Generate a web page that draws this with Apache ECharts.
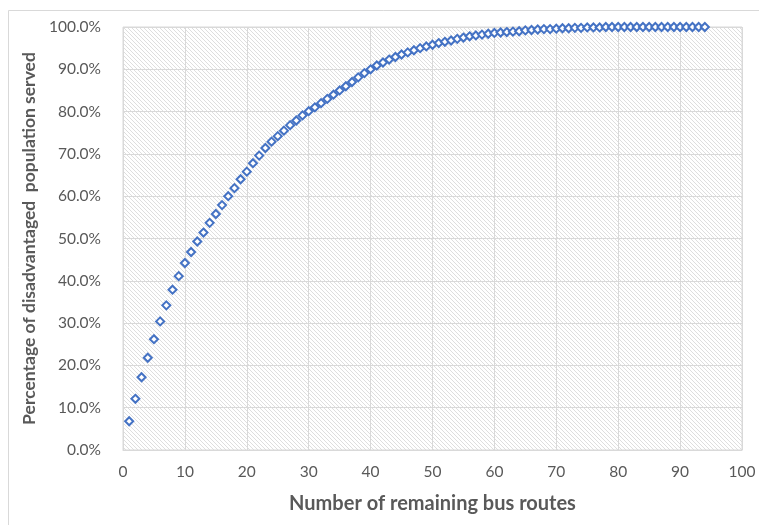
<!DOCTYPE html>
<html>
<head>
<meta charset="utf-8">
<script src="https://cdn.jsdelivr.net/npm/echarts@6/dist/echarts.min.js"></script>
<style>
html,body{margin:0;padding:0;background:#fff;}
#chart{width:759px;height:525px;}
</style>
</head>
<body>
<div id="chart"></div>
<script>
// Number of remaining bus routes
const routes = [1,2,3,4,5,6,7,8,9,10,11,12,13,14,15,16,17,18,19,20,
  21,22,23,24,25,26,27,28,29,30,31,32,33,34,35,36,37,38,39,40,
  41,42,43,44,45,46,47,48,49,50,51,52,53,54,55,56,57,58,59,60,
  61,62,63,64,65,66,67,68,69,70,71,72,73,74,75,76,77,78,79,80,
  81,82,83,84,85,86,87,88,89,90,91,92,93,94];
// Percentage of disadvantaged population served (%)
const served = [6.8,12.1,17.2,21.8,26.2,30.4,34.2,37.9,41.1,44.2,
  46.8,49.3,51.4,53.7,55.8,57.9,60.0,61.9,64.0,65.8,
  67.8,69.6,71.4,72.9,74.2,75.5,76.8,77.9,79.1,80.1,
  81.0,82.0,83.0,84.0,85.0,86.0,87.0,88.1,89.1,90.0,
  90.9,91.6,92.3,92.9,93.5,94.0,94.5,95.0,95.4,95.8,
  96.2,96.5,96.8,97.2,97.5,97.8,98.0,98.2,98.4,98.6,
  98.7,98.8,98.9,99.0,99.2,99.3,99.4,99.5,99.5,99.6,
  99.7,99.7,99.8,99.8,99.9,99.9,99.9,100,100,100,
  100,100,100,100,100,100,100,100,100,100,100,100,100,100];
const xTicks = [0,10,20,30,40,50,60,70,80,90,100];
const yTicks = [0,10,20,30,40,50,60,70,80,90,100];

// hatch pattern tile
const tile = document.createElement('canvas');
tile.width = 4; tile.height = 4;
const tctx = tile.getContext('2d');
tctx.fillStyle = '#ffffff';
tctx.fillRect(0,0,4,4);
const img = tctx.getImageData(0,0,4,4);
for (let i = 0; i < 4; i++) {
  const p = (i*4 + i)*4;
  img.data[p] = 222; img.data[p+1] = 222; img.data[p+2] = 222; img.data[p+3] = 255;
}
tctx.putImageData(img,0,0);

const chart = echarts.init(document.getElementById('chart'), null, {renderer:'canvas'});
const font = 'Lato, "Open Sans", sans-serif';
chart.setOption({
  animation: false,
  backgroundColor: '#ffffff',
  graphic: [{
    type: 'polyline',
    shape: {points: [[8.5,525],[8.5,10.5],[759,10.5]]},
    style: {stroke: '#d9d9d9', lineWidth: 1, fill: null},
    silent: true
  }],
  grid: {
    left: 123, right: 17, top: 27, bottom: 75,
    show: true,
    backgroundColor: {image: tile, repeat: 'repeat'},
    borderColor: '#d9d9d9',
    borderWidth: 1
  },
  xAxis: {
    type: 'value',
    min: xTicks[0], max: xTicks[xTicks.length-1], interval: 10,
    name: 'Number of remaining bus routes',
    nameLocation: 'middle',
    nameGap: 44,
    nameTextStyle: {color: '#595959', fontSize: 20, fontWeight: 'bold', fontFamily: font},
    axisLine: {show: true, lineStyle: {color: '#d9d9d9'}},
    axisTick: {show: false},
    axisLabel: {color: '#595959', fontSize: 15.5, fontFamily: font, margin: 14},
    splitLine: {show: true, lineStyle: {color: '#d9d9d9', width: 1}}
  },
  yAxis: {
    type: 'value',
    min: yTicks[0], max: yTicks[yTicks.length-1], interval: 10,
    name: 'Percentage of disadvantaged  population served',
    nameLocation: 'middle',
    nameGap: 78,
    nameTextStyle: {color: '#595959', fontSize: 17.5, fontWeight: 'bold', fontFamily: font},
    axisLine: {show: false},
    axisTick: {show: false},
    axisLabel: {color: '#595959', fontSize: 15.5, fontFamily: font, margin: 22,
      formatter: v => v.toFixed(1) + '%'},
    splitLine: {show: true, lineStyle: {color: '#d9d9d9', width: 1}}
  },
  series: [{
    type: 'scatter',
    data: routes.map((r,i) => [r, served[i]]),
    symbol: 'diamond',
    symbolSize: 8,
    itemStyle: {color: '#ffffff', borderColor: '#4472C4', borderWidth: 2, opacity: 1}
  }]
});
</script>
</body>
</html>
